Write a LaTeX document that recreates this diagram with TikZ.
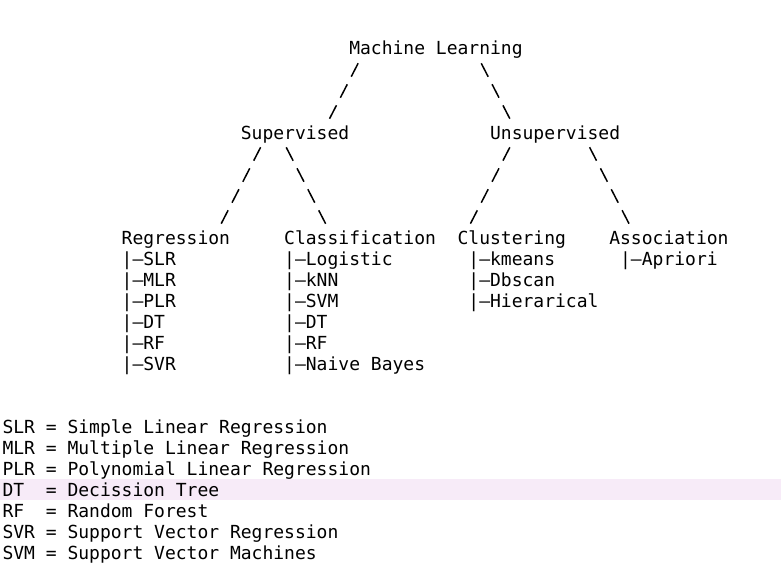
\documentclass[tikz,border=0pt]{standalone}
\usepackage{fontspec}
\newfontfamily\mono{DejaVu Sans Mono}
\usetikzlibrary{calc}
\definecolor{hl}{HTML}{F7EBF8}
\def\cw{10.836}
\def\xo{2.5}
\def\bl{55}
\begin{document}
\begin{tikzpicture}[x=1pt,y=-1pt,
  txt/.style={anchor=base west, inner sep=0pt, outer sep=0pt, font=\mono\fontsize{18}{21}\selectfont},
  slashes/.style={line width=1.5pt, dash pattern=on 15.08pt off 8.55pt, line cap=butt}]
\useasboundingbox (0,0) rectangle (781,586);
\fill[hl] (0,478.5) rectangle (781,499.5);
% tree labels
\node[txt] (ml)  at ({\xo+\cw*32},{\bl+21*0}) {Machine Learning};
\node[txt] (sup) at ({\xo+\cw*22},{\bl+21*4}) {Supervised};
\node[txt] (uns) at ({\xo+\cw*45},{\bl+21*4}) {Unsupervised};
\node[txt] (reg) at ({\xo+\cw*11},{\bl+21*9}) {Regression};
\node[txt] (cls) at ({\xo+\cw*26},{\bl+21*9}) {Classification};
\node[txt] (clu) at ({\xo+\cw*42},{\bl+21*9}) {Clustering};
\node[txt] (ass) at ({\xo+\cw*56},{\bl+21*9}) {Association};
% regression items
\node[txt] (reg1) at ({\xo+\cw*11},{\bl+21*10}) {|–SLR};
\node[txt] (reg2) at ({\xo+\cw*11},{\bl+21*11}) {|–MLR};
\node[txt] (reg3) at ({\xo+\cw*11},{\bl+21*12}) {|–PLR};
\node[txt] (reg4) at ({\xo+\cw*11},{\bl+21*13}) {|–DT};
\node[txt] (reg5) at ({\xo+\cw*11},{\bl+21*14}) {|–RF};
\node[txt] (reg6) at ({\xo+\cw*11},{\bl+21*15}) {|–SVR};
% classification items
\node[txt] (cls1) at ({\xo+\cw*26},{\bl+21*10}) {|–Logistic};
\node[txt] (cls2) at ({\xo+\cw*26},{\bl+21*11}) {|–kNN};
\node[txt] (cls3) at ({\xo+\cw*26},{\bl+21*12}) {|–SVM};
\node[txt] (cls4) at ({\xo+\cw*26},{\bl+21*13}) {|–DT};
\node[txt] (cls5) at ({\xo+\cw*26},{\bl+21*14}) {|–RF};
\node[txt] (cls6) at ({\xo+\cw*26},{\bl+21*15}) {|–Naive Bayes};
% clustering items
\node[txt] (clu1) at ({\xo+\cw*43},{\bl+21*10}) {|–kmeans};
\node[txt] (clu2) at ({\xo+\cw*43},{\bl+21*11}) {|–Dbscan};
\node[txt] (clu3) at ({\xo+\cw*43},{\bl+21*12}) {|–Hierarical};
% association items
\node[txt] (ass1) at ({\xo+\cw*57},{\bl+21*10}) {|–Apriori};
% legend
\node[txt] (lg1) at (\xo,{\bl+21*18}) {SLR = Simple Linear Regression};
\node[txt] (lg2) at (\xo,{\bl+21*19}) {MLR = Multiple Linear Regression};
\node[txt] (lg3) at (\xo,{\bl+21*20}) {PLR = Polynomial Linear Regression};
\node[txt] (lg4) at (\xo,{\bl+21*21}) {DT~~= Decission Tree};
\node[txt] (lg5) at (\xo,{\bl+21*22}) {RF~~= Random Forest};
\node[txt] (lg6) at (\xo,{\bl+21*23}) {SVR = Support Vector Regression};
\node[txt] (lg7) at (\xo,{\bl+21*24}) {SVM = Support Vector Machines};
% connector ends (slash columns of the ASCII tree)
\coordinate (ml-s)  at ({\xo+\cw*32.5+3.457},63.3);
\coordinate (sup-t) at ({\xo+\cw*30.5-3.457},118.7);
\coordinate (ml-u)  at ({\xo+\cw*44.5-3.457},63.3);
\coordinate (uns-t) at ({\xo+\cw*46.5+3.457},118.7);
\coordinate (sup-r) at ({\xo+\cw*23.5+3.457},147.3);
\coordinate (reg-t) at ({\xo+\cw*20.5-3.457},223.7);
\coordinate (sup-c) at ({\xo+\cw*26.5-3.457},147.3);
\coordinate (cls-t) at ({\xo+\cw*29.5+3.457},223.7);
\coordinate (uns-c) at ({\xo+\cw*46.5+3.457},147.3);
\coordinate (clu-t) at ({\xo+\cw*43.5-3.457},223.7);
\coordinate (uns-a) at ({\xo+\cw*54.5-3.457},147.3);
\coordinate (ass-t) at ({\xo+\cw*57.5+3.457},223.7);
% connectors
\draw[slashes] (ml-s) -- (sup-t);
\draw[slashes] (ml-u) -- (uns-t);
\draw[slashes] (sup-r) -- (reg-t);
\draw[slashes] (sup-c) -- (cls-t);
\draw[slashes] (uns-c) -- (clu-t);
\draw[slashes] (uns-a) -- (ass-t);
\end{tikzpicture}
\end{document}
